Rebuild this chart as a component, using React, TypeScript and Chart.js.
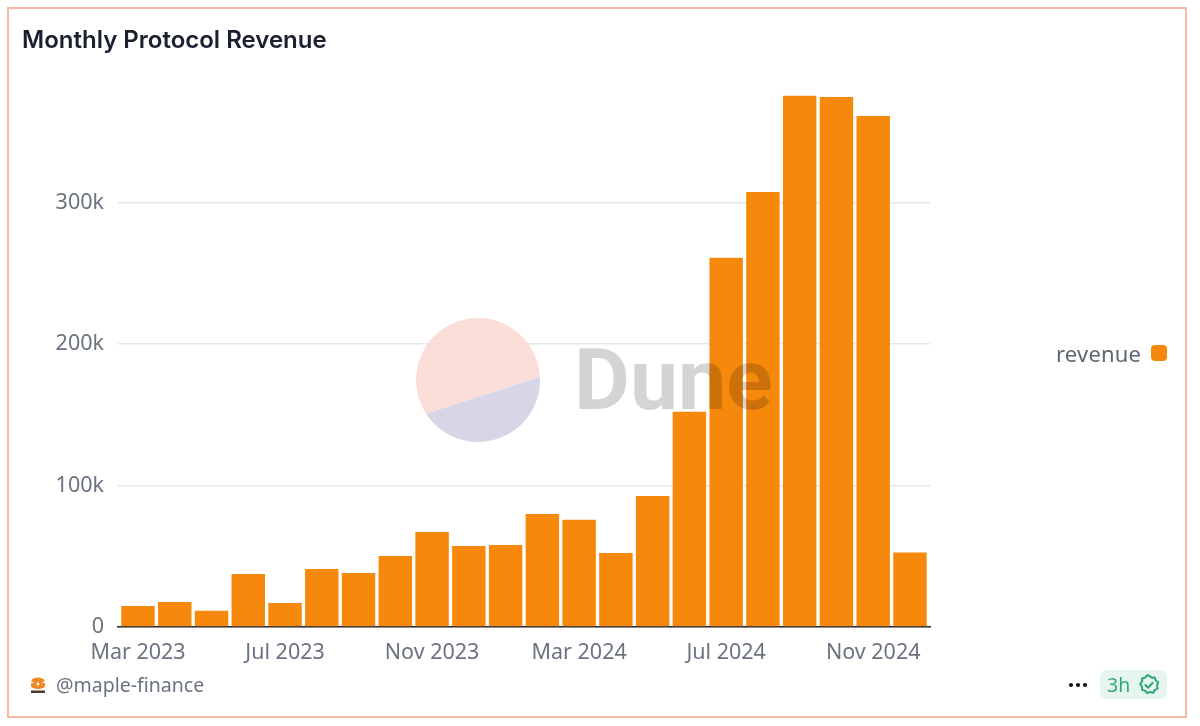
import React, { useEffect, useRef } from "react";
import { Chart, registerables } from "chart.js";

Chart.register(...registerables);

const months = [
  "Mar 2023", "Apr 2023", "May 2023", "Jun 2023", "Jul 2023", "Aug 2023", "Sep 2023", "Oct 2023",
  "Nov 2023", "Dec 2023", "Jan 2024", "Feb 2024", "Mar 2024", "Apr 2024", "May 2024", "Jun 2024",
  "Jul 2024", "Aug 2024", "Sep 2024", "Oct 2024", "Nov 2024", "Dec 2024",
];
const revenue = [
  14900, 17700, 11400, 37400, 17000, 41000, 38200, 50200,
  67200, 57200, 57900, 79900, 75700, 52200, 92600, 152000,
  260800, 307400, 375300, 374500, 361000, 52700,
];
const yTickValues = [0, 100000, 200000, 300000];
const yTickLabels = ["0", "100k", "200k", "300k"];
const xTickLabels = ["Mar 2023", "Jul 2023", "Nov 2023", "Mar 2024", "Jul 2024", "Nov 2024"];

const ORANGE = "#f6890c";
const TICK = "#6b7280";
const FONT = "'Noto Sans', sans-serif";

const watermark = {
  id: "watermark",
  afterDatasetsDraw(chart: Chart) {
    const c = chart.ctx;
    const d2r = Math.PI / 180;
    c.save();
    c.globalAlpha = 0.85;
    c.fillStyle = "#fcd8d1";
    c.beginPath();
    c.arc(478, 380, 62, 147 * d2r, 357.2 * d2r);
    c.closePath();
    c.fill();
    c.fillStyle = "#cfcfe2";
    c.beginPath();
    c.arc(478, 380, 62, -2.8 * d2r, 147 * d2r);
    c.closePath();
    c.fill();
    c.globalAlpha = 1;
    c.fillStyle = "rgba(0,0,0,0.17)";
    c.font = "700 86px Roboto, sans-serif";
    c.textBaseline = "alphabetic";
    c.textAlign = "left";
    c.fillText("Dune", 574, 409);
    c.restore();
  },
};

const abs = (style: React.CSSProperties): React.CSSProperties => ({
  position: "absolute",
  whiteSpace: "nowrap",
  ...style,
});

export default function App() {
  const ref = useRef<HTMLCanvasElement>(null);

  useEffect(() => {
    document.body.style.margin = "0";
    document.body.style.background = "#fff";
    const chart = new Chart(ref.current!, {
      type: "bar",
      data: {
        datasets: [
          {
            label: "revenue",
            data: revenue.map((y, x) => ({ x, y })),
            backgroundColor: ORANGE,
            barPercentage: 0.91,
            categoryPercentage: 1,
          },
        ],
      },
      options: {
        animation: false,
        responsive: false,
        layout: { padding: { top: 75, right: 270, left: 0, bottom: 0 } },
        plugins: { legend: { display: false }, title: { display: false }, tooltip: { enabled: false } },
        scales: {
          x: {
            type: "linear",
            offset: false,
            min: -0.544,
            max: 21.545,
            grid: { display: false },
            border: { display: true, color: "#1f2430", width: 1.5 },
            afterFit(axis: any) {
              axis.height = 99;
            },
            afterBuildTicks(axis: any) {
              axis.ticks = xTickLabels.map((label) => ({ value: months.indexOf(label) }));
            },
            ticks: {
              autoSkip: false,
              maxRotation: 0,
              minRotation: 0,
              padding: 5,
              color: TICK,
              font: { family: FONT, size: 21.5 },
              callback(value: any) {
                return months[value];
              },
            },
          },
          y: {
            min: 0,
            max: 390000,
            border: { display: false },
            grid: { color: "#e5e7eb", lineWidth: 1.5, drawTicks: false },
            afterFit(axis: any) {
              axis.width = 118;
            },
            afterBuildTicks(axis: any) {
              axis.ticks = yTickValues.map((value) => ({ value }));
            },
            ticks: {
              padding: 14,
              color: TICK,
              font: { family: FONT, size: 21.5 },
              callback(value: any) {
                const i = yTickValues.indexOf(value);
                return i >= 0 ? yTickLabels[i] : "";
              },
            },
          },
        },
      },
      plugins: [watermark],
    });
    return () => chart.destroy();
  }, []);

  return (
    <div style={{ position: "absolute", left: 0, top: 0, width: 1200, height: 726, background: "#fff", overflow: "hidden", fontFamily: FONT }}>
      <canvas ref={ref} width={1200} height={726} style={{ position: "absolute", left: 0, top: 0 }} />
      <div style={abs({ left: 7, top: 7, width: 1176, height: 707, border: "2px solid #f7b9a5" })} />
      <div style={abs({ left: 22, top: 24, fontFamily: "Inter, sans-serif", fontWeight: 600, fontSize: 24, lineHeight: "32px", color: "#1a2030" })}>
        Monthly Protocol Revenue
      </div>
      <div style={abs({ left: 1056, top: 338, fontSize: 22, letterSpacing: 0.2, lineHeight: "30px", color: "#5f6672" })}>revenue</div>
      <div style={abs({ left: 1151, top: 345, width: 16, height: 16, borderRadius: 4, background: ORANGE })} />
      <svg style={abs({ left: 30, top: 677, width: 16, height: 17 })} viewBox="0 0 16 17">
        <ellipse cx="8" cy="3.5" rx="6.5" ry="3" fill="#f08a24" />
        <path d="M1 6h14v3a7 3 0 0 1-14 0z" fill="#f08a24" />
        <circle cx="8" cy="7" r="1.4" fill="#fff" />
        <rect x="1" y="13.5" width="14" height="2.5" fill="#4b3a2c" />
      </svg>
      <div style={abs({ left: 56, top: 671, fontSize: 19.5, lineHeight: "28px", color: "#6b7280" })}>@maple-finance</div>
      <svg style={abs({ left: 1066, top: 680, width: 24, height: 10 })} viewBox="0 0 24 10">
        <circle cx="5" cy="5" r="2.1" fill="#111" />
        <circle cx="12" cy="5" r="2.1" fill="#111" />
        <circle cx="19" cy="5" r="2.1" fill="#111" />
      </svg>
      <div style={abs({ left: 1100, top: 670, width: 67, height: 29, borderRadius: 7, background: "#e6f6ef" })} />
      <div style={abs({ left: 1107, top: 671, fontSize: 19.5, lineHeight: "28px", color: "#34a87a" })}>3h</div>
      <svg style={abs({ left: 1138, top: 674, width: 22, height: 22 })} viewBox="0 0 24 24" fill="none" stroke="#2fa877" strokeWidth="2.2" strokeLinejoin="round" strokeLinecap="round">
        <path d="M12 2.5l2.8 2 3.4-.2 1 3.3 2.6 2.2-1.2 3.2.6 3.4-3.1 1.5-1.7 3-3.4-.7-3.2 1.2-2.2-2.6-3.3-1-.1-3.4-2-2.8 2-2.8.1-3.4 3.3-1 2.2-2.6z" transform="translate(0.2 -0.5)" />
        <path d="M8 12l3 3 5-5.5" />
      </svg>
    </div>
  );
}
